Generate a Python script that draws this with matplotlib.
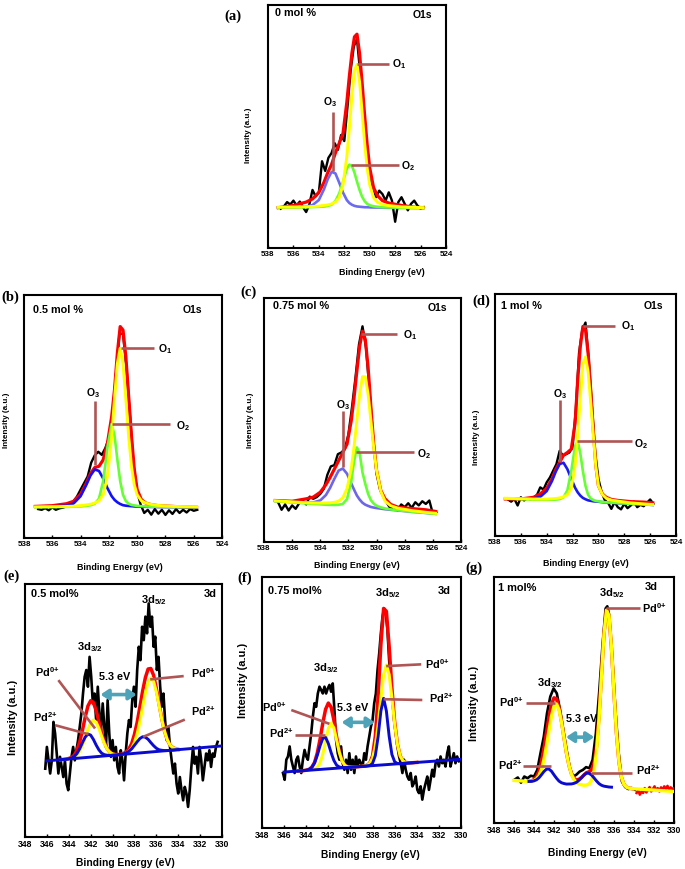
import numpy as np
import matplotlib
matplotlib.use('Agg')
import matplotlib.pyplot as plt
from matplotlib import font_manager

# ---------------------------------------------------------------
# values; intensity in % of each panel height
# ---------------------------------------------------------------
ticks_o = [538, 536, 534, 532, 530, 528, 526, 524]
ticks_pd = [348, 346, 344, 342, 340, 338, 336, 334, 332, 330]

# O1s fitted curves, common energy grid
e_fit_o = [537.2, 536.0, 535.0, 534.5, 534.0, 533.6, 533.3, 533.0, 532.7, 532.4,
           532.1, 531.8, 531.6, 531.4, 531.2, 531.0, 530.8, 530.6, 530.4, 530.2,
           530.0, 529.7, 529.4, 529.0, 528.5, 527.5, 526.5, 525.8]
# O1s raw spectra grid
e_raw_o = [537.0, 536.75, 536.5, 536.25, 536.0, 535.75, 535.5, 535.25, 535.0, 534.75,
           534.5, 534.25, 534.0, 533.75, 533.5, 533.25, 533.0, 532.75, 532.5, 532.25,
           532.0, 531.75, 531.5, 531.25, 531.0, 530.75, 530.5, 530.25, 530.0, 529.75,
           529.5, 529.25, 529.0, 528.75, 528.5, 528.25, 528.0, 527.75, 527.5, 527.25,
           527.0, 526.75, 526.5, 526.25, 526.0, 525.75]

# (a) 0 mol %
a_raw = [16.2, 17.1, 18.9, 17.9, 19.5, 17.5, 19.1, 16.8, 14.8, 17.9,
         23.9, 21.2, 22.9, 35.7, 31.7, 37.1, 39.1, 43.1, 40.4, 46.5,
         44.0, 58.0, 73.0, 83.0, 86.0, 72.0, 57.0, 40.0, 30.0, 24.9,
         20.9, 23.6, 22.2, 19.5, 22.9, 19.5, 10.8, 18.9, 20.9, 18.2,
         15.5, 18.2, 19.5, 17.5, 16.2, 16.8]
a_env = [16.6, 17.5, 18.9, 20.2, 22.9, 27.0, 31.0, 34.4, 39.1, 43.1,
         47.2, 60.0, 70.8, 80.2, 86.9, 88.0, 80.2, 68.1, 54.6, 42.5,
         33.0, 24.9, 21.6, 19.5, 18.5, 17.5, 16.8, 16.6]
a_o1 = [0.2, 0.3, 0.4, 0.5, 0.7, 1.0, 1.2, 1.6, 2.4, 4.3, 9.5, 21.1, 33.0, 46.2, 56.6,
        59.1, 52.1, 39.6, 26.7, 16.4, 9.5, 4.3, 2.4, 1.4, 1.0, 0.5, 0.3, 0.2]
a_o2 = [0.1, 0.1, 0.2, 0.3, 0.4, 0.5, 0.8, 1.3, 2.8, 5.9, 10.8, 16.1, 17.8, 17.3, 14.5,
        10.8, 7.4, 4.6, 2.8, 1.7, 1.1, 0.7, 0.5, 0.3, 0.25, 0.15, 0.1, 0.1]
a_o3 = [0.1, 0.2, 0.5, 1.1, 3.2, 7.6, 11.8, 14.8, 14.2, 10.4, 6.3, 3.2, 2.0, 1.3, 0.85,
        0.6, 0.5, 0.4, 0.3, 0.3, 0.25, 0.2, 0.2, 0.15, 0.1, 0.1, 0.05, 0.05]
a_bg = [16.6, 16.4]

# (b) 0.5 mol %
b_raw = [11.9, 11.6, 12.3, 11.4, 12.6, 11.6, 12.2, 12.5, 13.0, 13.7,
         15.1, 17.1, 19.9, 22.6, 25.3, 31.0, 34.0, 35.5, 34.2, 37.0,
         41.0, 50.0, 67.0, 84.0, 84.0, 70.0, 50.0, 30.0, 19.0, 13.7,
         10.3, 11.6, 9.6, 11.9, 10.0, 11.6, 9.5, 11.4, 9.9, 11.9,
         10.3, 11.6, 10.5, 11.9, 11.2, 11.6]
b_env = [13.0, 13.3, 14.1, 15.1, 18.0, 22.5, 26.5, 29.0, 29.5, 32.2,
         39.0, 50.0, 61.0, 76.0, 87.0, 85.6, 74.7, 58.2, 41.8, 28.1,
         19.9, 15.8, 14.4, 13.7, 13.3, 13.0, 12.7, 12.6]
b_o1 = [0.2, 0.3, 0.4, 0.5, 0.75, 1.0, 1.3, 1.8, 2.7, 5.2, 12.8, 29.1, 44.7, 59.1, 65.5,
        59.1, 44.7, 29.1, 16.9, 9.2, 5.2, 2.7, 1.8, 1.2, 0.8, 0.4, 0.3, 0.2]
b_o2 = [0.1, 0.1, 0.2, 0.3, 0.4, 0.6, 0.9, 1.5, 3.6, 10.8, 24.8, 34.4, 29.6, 19.7, 10.8,
        5.2, 2.6, 1.5, 1.0, 0.8, 0.6, 0.5, 0.4, 0.3, 0.25, 0.15, 0.1, 0.1]
b_o3 = [0.2, 0.3, 0.7, 1.6, 4.6, 9.2, 13.1, 15.6, 15.0, 11.9, 7.9, 4.6, 3.1, 2.1, 1.4,
        0.9, 0.7, 0.6, 0.5, 0.4, 0.35, 0.3, 0.25, 0.2, 0.15, 0.1, 0.1, 0.05]
b_bg = [12.6, 12.6]

# (c) 0.75 mol %
c_raw = [16.3, 13.2, 15.4, 12.9, 15.0, 13.6, 15.9, 17.0, 15.4, 18.6,
         17.7, 18.4, 19.7, 21.8, 27.5, 31.0, 31.5, 36.0, 36.7, 38.1,
         44.2, 55.1, 67.3, 81.0, 88.4, 79.6, 61.9, 42.9, 27.9, 21.4,
         18.4, 15.9, 13.6, 14.6, 12.9, 15.4, 14.3, 15.9, 14.0, 16.3,
         15.0, 16.7, 15.6, 17.0, 11.6, 12.2]
c_env = [17.0, 16.7, 17.7, 18.4, 20.4, 23.5, 26.5, 29.9, 33.3, 36.7,
         40.1, 49.7, 59.2, 70.1, 80.3, 86.4, 83.0, 71.4, 55.1, 40.1,
         29.3, 21.1, 17.7, 15.4, 14.3, 13.7, 13.2, 12.5]
c_o1 = [0.2, 0.3, 0.4, 0.55, 0.75, 0.95, 1.15, 1.5, 2.1, 3.6, 7.5, 15.8, 24.9, 35.9, 46.8,
        53.9, 53.9, 46.8, 35.9, 24.9, 15.8, 7.5, 3.6, 1.9, 1.15, 0.6, 0.35, 0.3]
c_o2 = [0.05, 0.1, 0.1, 0.1, 0.2, 0.2, 0.3, 0.4, 0.6, 1.1, 3.2, 10.6, 18.8, 24.7, 22.4,
        14.6, 10.0, 6.0, 3.5, 2.2, 1.4, 0.9, 0.6, 0.4, 0.3, 0.15, 0.1, 0.05]
c_o3 = [0.1, 0.25, 0.45, 0.75, 1.8, 4.2, 7.3, 11.1, 14.6, 15.6, 13.6, 9.8, 7.3, 5.0, 3.4,
        2.2, 1.5, 1.1, 0.75, 0.6, 0.5, 0.4, 0.3, 0.25, 0.2, 0.1, 0.1, 0.05]
c_bg = [16.7, 11.5]

# (d) 1 mol %
d_raw = [15.1, 14.2, 15.3, 12.6, 16.0, 14.7, 15.6, 15.1, 16.0, 17.0,
         20.1, 19.2, 22.2, 24.2, 27.0, 29.7, 35.2, 33.2, 33.8, 34.5,
         36.6, 52.3, 75.6, 85.2, 88.2, 72.9, 53.7, 34.5, 23.6, 18.1,
         14.7, 13.7, 11.2, 14.0, 11.9, 11.0, 13.3, 11.5, 12.6, 14.2,
         11.9, 12.9, 12.3, 13.7, 15.1, 13.3]
d_env = [15.3, 15.3, 16.0, 17.4, 19.7, 23.5, 27.5, 30.4, 33.4, 34.5,
         35.9, 46.8, 64.7, 78.4, 86.6, 85.2, 75.6, 60.5, 44.1, 29.0,
         20.8, 17.4, 16.0, 15.1, 14.7, 14.2, 14.0, 13.7]
d_o1 = [0.2, 0.3, 0.4, 0.5, 0.6, 0.8, 1.0, 1.3, 1.8, 2.8, 5.5, 15.0, 28.0, 43.0, 57.0,
        60.0, 54.0, 41.5, 28.0, 15.0, 7.0, 3.5, 2.0, 1.3, 1.0, 0.5, 0.3, 0.2]
d_o2 = [0.05, 0.1, 0.1, 0.2, 0.3, 0.4, 0.55, 0.8, 1.6, 4.6, 12.7, 23.2, 25.0, 20.1, 12.7,
        6.7, 3.1, 1.6, 1.0, 0.7, 0.55, 0.4, 0.3, 0.25, 0.2, 0.1, 0.1, 0.05]
d_o3 = [0.15, 0.3, 0.65, 1.4, 3.9, 8.05, 12.1, 15.3, 15.9, 13.3, 9.4, 5.7, 3.9, 2.6, 1.7,
        1.2, 0.8, 0.65, 0.5, 0.45, 0.4, 0.3, 0.25, 0.2, 0.15, 0.1, 0.1, 0.05]
d_bg = [15.4, 12.8]
bg_e_o = [537.2, 525.8]

# Pd 3d fitted components, grid for (e) and (f)
e_fit_pd = [344.75, 344.5, 344.25, 344.0, 343.75, 343.5, 343.25, 343.0, 342.75, 342.5,
            342.25, 342.0, 341.75, 341.5, 341.25, 341.0, 340.75, 340.5, 340.25, 340.0,
            339.75, 339.5, 339.25, 339.0, 338.75, 338.5, 338.25, 338.0, 337.75, 337.5,
            337.25, 337.0, 336.75, 336.5, 336.25, 336.0, 335.75, 335.5, 335.25, 335.0,
            334.75, 334.5, 334.25, 334.0]
bg_e_pd = [346.0, 330.0]

# (e) 0.5 mol%
e_pd0 = [0.0, 0.0, 0.0, 0.1, 0.2, 0.5, 1.3, 2.7, 4.9, 7.9, 11.1, 13.6, 14.6, 13.6, 11.1,
         7.9, 4.9, 2.7, 1.3, 0.5, 0.2, 0.1, 0.0, 0.1, 0.4, 1.0, 2.1, 4.3, 7.7, 12.5,
         18.1, 23.6, 27.8, 29.3, 27.8, 23.6, 18.1, 12.5, 7.7, 4.3, 2.1, 1.0, 0.4, 0.1]
e_pd2 = [0.0, 0.0, 0.0, 0.1, 0.3, 0.8, 1.9, 3.7, 6.0, 8.1, 9.2, 8.7, 6.9, 4.6, 2.6,
         1.2, 0.5, 0.2, 0.0, 0.0, 0.0, 0.0, 0.1, 0.2, 0.5, 1.0, 1.9, 3.2, 4.5, 5.7,
         6.3, 6.0, 5.1, 3.7, 2.4, 1.3, 0.6, 0.3, 0.1, 0.0, 0.0, 0.0, 0.0, 0.0]
e_bg = [30.1, 36.0]
e_raw_e = [346.15, 346.0, 345.85, 345.7, 345.55, 345.4, 345.25, 345.1, 344.95, 344.8,
           344.65, 344.5, 344.35, 344.2, 344.05, 343.9, 343.75, 343.6, 343.45, 343.3,
           343.15, 343.0, 342.85, 342.7, 342.55, 342.4, 342.25, 342.1, 341.95, 341.8,
           341.65, 341.5, 341.35, 341.2, 341.05, 340.9, 340.75, 340.6, 340.45, 340.3,
           340.15, 340.0, 339.85, 339.7, 339.55, 339.4, 339.25, 339.1, 338.95, 338.8,
           338.65, 338.5, 338.35, 338.2, 338.05, 337.9, 337.75, 337.6, 337.45, 337.3,
           337.15, 337.0, 336.85, 336.7, 336.55, 336.4, 336.25, 336.1, 335.95, 335.8,
           335.65, 335.5, 335.35, 335.2, 335.05, 334.9, 334.75, 334.6, 334.45, 334.3,
           334.15, 334.0, 333.85, 333.7, 333.55, 333.4, 333.25, 333.1, 332.95, 332.8,
           332.65, 332.5, 332.35, 332.2, 332.05, 331.9, 331.75, 331.6, 331.45, 331.3,
           331.15, 331.0, 330.85, 330.7, 330.55, 330.4]
e_raw = [27.0, 35.6, 30.3, 25.1, 30.3, 45.5, 40.9, 33.0, 25.1, 31.7,
         27.7, 23.7, 30.3, 21.1, 18.5, 25.1, 31.7, 35.6, 30.3, 34.3,
         38.3, 43.5, 48.8, 56.7, 63.3, 66.0, 59.4, 71.2, 63.3, 52.8,
         56.7, 46.2, 59.4, 48.8, 42.2, 52.8, 43.5, 35.6, 54.1, 40.9,
         31.7, 38.3, 30.3, 35.6, 27.7, 25.1, 34.3, 30.3, 22.4, 33.0,
         40.9, 46.2, 43.5, 54.1, 59.4, 51.5, 66.0, 75.2, 69.9, 83.1,
         77.8, 87.1, 80.5, 92.3, 83.1, 87.1, 75.2, 79.2, 66.0, 71.2,
         59.4, 51.5, 56.7, 46.2, 38.3, 43.5, 35.6, 30.3, 25.1, 29.0,
         21.1, 17.2, 23.7, 18.5, 14.5, 19.8, 17.2, 11.9, 18.5, 27.7,
         35.6, 29.0, 31.7, 25.1, 35.6, 30.3, 22.4, 27.7, 33.0, 30.3,
         34.3, 27.7, 33.0, 31.7, 35.6, 37.6]

# (f) 0.75 mol%
f_pd0 = [0.0, 0.0, 0.0, 0.0, 0.0, 0.1, 0.2, 0.9, 2.6, 6.1, 11.2, 16.1, 18.1, 16.1, 11.2,
         6.1, 2.6, 0.9, 0.2, 0.1, 0.0, 0.0, 0.0, 0.0, 0.1, 0.3, 1.0, 3.0, 7.7, 15.8,
         26.4, 35.8, 39.7, 35.8, 26.4, 15.8, 7.7, 3.0, 1.0, 0.3, 0.1, 0.0, 0.0, 0.0]
f_pd2 = [0.0, 0.0, 0.0, 0.1, 0.3, 1.0, 2.7, 5.7, 9.4, 12.3, 12.6, 10.1, 6.4, 3.2, 1.2,
         0.4, 0.1, 0.0, 0.0, 0.0, 0.0, 0.0, 0.0, 0.0, 0.0, 0.0, 0.1, 0.9, 3.9, 11.3,
         21.4, 26.5, 21.4, 11.3, 3.9, 0.9, 0.1, 0.0, 0.0, 0.0, 0.0, 0.0, 0.0, 0.0]
f_bg = [22.3, 27.4]
f_raw_e = [346.1, 345.95, 345.8, 345.65, 345.5, 345.35, 345.2, 345.05, 344.9, 344.75,
           344.6, 344.45, 344.3, 344.15, 344.0, 343.85, 343.7, 343.55, 343.4, 343.25,
           343.1, 342.95, 342.8, 342.65, 342.5, 342.35, 342.2, 342.05, 341.9, 341.75,
           341.6, 341.45, 341.3, 341.15, 341.0, 340.85, 340.7, 340.55, 340.4, 340.25,
           340.1, 339.95, 339.8, 339.65, 339.5, 339.35, 339.2, 339.05, 338.9, 338.75,
           338.6, 338.45, 338.3, 338.15, 338.0, 337.85, 337.7, 337.55, 337.4, 337.25,
           337.1, 336.95, 336.8, 336.65, 336.5, 336.35, 336.2, 336.05, 335.9, 335.75,
           335.6, 335.45, 335.3, 335.15, 335.0, 334.85, 334.7, 334.55, 334.4, 334.25,
           334.1, 333.95, 333.8, 333.65, 333.5, 333.35, 333.2, 333.05, 332.9, 332.75,
           332.6, 332.45, 332.3, 332.15, 332.0, 331.85, 331.7, 331.55, 331.4, 331.25,
           331.1, 330.95, 330.8, 330.65, 330.5, 330.35, 330.2, 330.05]
f_raw = [21.9, 19.2, 27.2, 28.5, 32.5, 27.2, 24.5, 21.9, 27.2, 28.5,
         24.5, 21.9, 27.2, 31.1, 28.5, 27.2, 32.5, 37.7, 44.4, 49.7,
         48.3, 53.6, 56.3, 55.0, 53.6, 56.3, 53.6, 55.6, 57.0, 54.3,
         57.6, 47.0, 35.1, 29.8, 27.2, 32.5, 25.8, 23.2, 27.2, 21.9,
         29.8, 23.2, 27.2, 21.9, 28.5, 24.5, 27.2, 25.8, 24.5, 29.8,
         27.2, 32.5, 36.4, 40.4, 43.0, 49.7, 53.6, 62.9, 69.5, 77.5,
         84.1, 87.4, 85.4, 78.8, 66.9, 58.9, 51.0, 43.0, 37.7, 32.5,
         28.5, 25.8, 21.9, 27.2, 23.2, 20.5, 19.2, 21.9, 16.6, 17.9,
         20.5, 15.2, 13.9, 16.6, 11.3, 15.2, 17.9, 20.5, 15.2, 19.2,
         23.2, 20.5, 25.8, 27.2, 24.5, 28.5, 25.8, 27.2, 24.5, 29.8,
         32.5, 24.5, 27.2, 29.8, 25.8, 28.5, 26.5, 27.2]

# (g) 1 mol%
e_fit_g = [346.0, 345.75, 345.5, 345.25, 345.0, 344.75, 344.5, 344.25, 344.0, 343.75,
           343.5, 343.25, 343.0, 342.75, 342.5, 342.25, 342.0, 341.75, 341.5, 341.25,
           341.0, 340.75, 340.5, 340.25, 340.0, 339.75, 339.5, 339.25, 339.0, 338.75,
           338.5, 338.25, 338.0, 337.75, 337.5, 337.25, 337.0, 336.75, 336.5, 336.25,
           336.0, 335.75, 335.5, 335.25, 335.0, 334.75, 334.5, 334.25, 334.0, 333.75,
           333.5, 333.25, 333.0, 332.75, 332.5, 332.25, 332.0, 331.75, 331.5, 331.25,
           331.0, 330.75, 330.5, 330.25, 330.0]
g_pd0 = [0.0] * 6 + [0.1, 0.2, 0.5, 1.3, 2.7, 5.3, 9.4, 15.0, 21.3, 27.2,
                     31.3, 32.3, 30.0, 25.0, 18.7, 12.6, 7.6, 4.1, 2.0, 0.9,
                     0.4, 0.1, 0.0, 0.2, 0.6, 2.1, 5.9, 13.9, 27.3, 45.1,
                     62.1, 71.8, 69.6, 56.5, 38.4, 21.9, 10.4, 4.2, 1.4, 0.4,
                     0.1] + [0.0] * 18
g_pd2 = [0.0] * 7 + [0.1, 0.4, 0.9, 1.8, 3.1, 4.5, 5.5, 5.6, 4.8, 3.4,
                     2.1, 1.0, 0.4, 0.15, 0.0, 0.1, 0.2, 0.5, 1.0, 1.9,
                     3.0, 4.2, 5.0, 5.0, 4.4, 3.3, 2.1, 1.1, 0.5, 0.2,
                     0.1] + [0.0] * 27
g_bg = [17.3, 12.8]
g_raw_e = [345.95, 345.62, 345.3, 344.97, 344.65, 344.32, 344.0, 343.67, 343.35, 343.02,
           342.7, 342.37, 342.04, 341.72, 341.39, 341.07, 340.74, 340.42, 340.09, 339.77,
           339.44, 339.11, 338.79, 338.46, 338.14, 337.81, 337.49, 337.16, 336.84, 336.67,
           336.51, 336.18, 335.86, 335.53, 335.21, 334.88, 334.56, 334.23, 333.9]
g_raw = [17.6, 18.5, 16.4, 18.9, 18.2, 19.2, 18.9, 21.6, 28.4, 35.1,
         44.6, 51.4, 54.7, 52.7, 45.9, 37.8, 29.7, 22.3, 18.9, 19.6,
         20.9, 21.6, 22.7, 22.3, 25.7, 36.5, 52.7, 71.6, 87.2, 88.1,
         85.1, 67.6, 45.9, 28.4, 16.9, 14.6, 13.8, 14.2, 13.5]
g_tail_e = [333.74, 333.58, 333.42, 333.25, 333.09, 332.93, 332.77, 332.6, 332.44, 332.28,
            332.11, 331.95, 331.79, 331.63, 331.46, 331.3, 331.14, 330.98, 330.81, 330.65,
            330.49, 330.33, 330.16, 330.0]
g_tail = [12.2, 13.5, 11.5, 12.8, 12.2, 14.2, 12.4, 13.5, 14.6, 12.8,
          13.8, 14.9, 13.2, 14.2, 12.8, 14.5, 13.5, 14.9, 13.8, 15.1,
          13.5, 14.5, 13.8, 14.2]

# ---------------------------------------------------------------
W, H = 685, 869


def have(name):
    try:
        font_manager.findfont(font_manager.FontProperties(family=name),
                              fallback_to_default=False)
        return True
    except Exception:
        return False


SANS = 'Liberation Sans'
SERIF = 'Liberation Serif'
NARROW = 'Liberation Sans Narrow' if have('Liberation Sans Narrow') else SANS
K = 1.0 if NARROW != SANS else 0.92    # short texts, no narrow face
KL = 1.0 if NARROW != SANS else 0.84   # long titles, no narrow face

plt.rcParams['font.family'] = [SANS, 'DejaVu Sans']
plt.rcParams['mathtext.fontset'] = 'custom'
plt.rcParams['mathtext.rm'] = SANS
plt.rcParams['mathtext.bf'] = SANS + ':bold'

RED, YEL, GRN = '#ff0000', '#ffff00', '#66ff33'
LEAD = '#b05555'
ARROW = '#4fa3b8'
BLUE_PD = '#0a0ad0'

fig = plt.figure(figsize=(W / 100, H / 100), dpi=100)

boxes = {
    'a': (268, 446, 5, 248),
    'b': (24, 222, 295, 538),
    'c': (264, 461, 298, 542),
    'd': (495, 676, 294, 536),
    'e': (25, 222, 584, 837),
    'f': (262, 461, 577, 828),
    'g': (494, 674, 577, 823),
}


def add_box(key):
    L, R, T, B = boxes[key]
    return fig.add_axes([L / W, 1 - B / H, (R - L) / W, (B - T) / H])


def frame(ax, ticks, fam, size):
    ax.set_xlim(ticks[0], ticks[-1])
    ax.set_ylim(0, 100)
    ax.set_xticks(ticks)
    ax.set_xticklabels([str(t) for t in ticks], fontsize=size,
                       fontweight='bold', family=fam)
    ax.set_yticks([])
    ax.tick_params(axis='x', direction='in', length=2.5, width=1.0, pad=2.5)
    for s in ax.spines.values():
        s.set_linewidth(1.5)


def ftext(x, y, s, **kw):
    fig.text(x / W, 1 - y / H, s, ha='center', va='center', **kw)


def line_at(e, e_pts, y_pts):
    # straight background line through its two read end points
    e = np.asarray(e, dtype=float)
    return y_pts[0] + (e - e_pts[0]) * (y_pts[1] - y_pts[0]) / (e_pts[1] - e_pts[0])


def o1s_panel(key, raw, env, o1, o2, o3, bg, blue, conc, cpos, spos, labels):
    ax = add_box(key)
    frame(ax, ticks_o, SANS, 5.8)
    base = line_at(e_fit_o, bg_e_o, bg)
    ax.plot(e_raw_o, raw, color='black', lw=1.7, zorder=2)
    ax.plot(e_fit_o, env, color=RED, lw=2.3, zorder=3)
    ax.plot(e_fit_o, base + np.array(o3), color=blue, lw=1.9, zorder=4)
    ax.plot(e_fit_o, base + np.array(o2), color=GRN, lw=1.9, zorder=5)
    ax.plot(e_fit_o, base + np.array(o1), color=YEL, lw=2.1, zorder=6)
    ax.text(cpos[0], cpos[1], conc, transform=ax.transAxes, ha='left', va='center',
            fontsize=7.8, fontweight='bold')
    ax.text(spos[0], spos[1], 'O1s', transform=ax.transAxes, ha='right', va='center',
            fontsize=7.5, fontweight='bold')
    for (x1, y1, x2, y2, tx, ty, s) in labels:
        ax.plot([x1, x2], [y1, y2], color=LEAD, lw=1.9, zorder=7,
                solid_capstyle='butt')
        ax.text(tx, ty, s, ha='center', va='center', fontsize=7.5, zorder=8)
    return ax


O1, O2, O3 = r'$\mathbf{O_1}$', r'$\mathbf{O_2}$', r'$\mathbf{O_3}$'

o1s_panel('a', a_raw, a_env, a_o1, a_o2, a_o3, a_bg, '#6a6af2', '0 mol %',
          (0.04, 0.967), (0.92, 0.96),
          [(531.0, 75.7, 528.45, 75.7, 527.7, 75.7, O1),
           (531.5, 34.0, 527.7, 34.0, 527.0, 33.7, O2),
           (532.9, 55.9, 532.9, 31.7, 533.1, 60.2, O3)])
o1s_panel('b', b_raw, b_env, b_o1, b_o2, b_o3, b_bg, '#1010ff', '0.5 mol %',
          (0.045, 0.94), (0.9, 0.94),
          [(531.15, 78.1, 528.8, 78.1, 528.05, 77.7, O1),
           (531.8, 47.0, 527.66, 47.0, 526.75, 46.2, O2),
           (532.99, 56.2, 532.99, 30.1, 533.1, 59.6, O3)])
o1s_panel('c', c_raw, c_env, c_o1, c_o2, c_o3, c_bg, '#6d66e8', '0.75 mol %',
          (0.045, 0.967), (0.93, 0.96),
          [(531.12, 85.4, 528.56, 85.4, 527.6, 85.0, O1),
           (531.47, 36.7, 527.32, 36.7, 526.6, 36.1, O2),
           (532.42, 53.7, 532.42, 30.6, 532.4, 56.3, O3)])
o1s_panel('d', d_raw, d_env, d_o1, d_o2, d_o3, d_bg, '#1a1aee', '1 mol %',
          (0.033, 0.95), (0.93, 0.95),
          [(531.16, 86.6, 528.72, 86.6, 527.7, 86.6, O1),
           (531.66, 39.3, 527.43, 39.3, 526.7, 37.9, O2),
           (533.0, 56.2, 533.0, 30.7, 533.0, 58.5, O3)])

PD0, PD2 = r'$\mathbf{Pd^{0{+}}}$', r'$\mathbf{Pd^{2{+}}}$'
D32, D52 = r'$\mathbf{3d_{3/2}}$', r'$\mathbf{3d_{5/2}}$'


def pd_decor(ax, conc, cpos, dpos, d32, d52, labels, arrow, gap):
    ax.text(cpos[0], cpos[1], conc, transform=ax.transAxes, ha='left', va='center',
            fontsize=8.6 * K, fontweight='bold', family=NARROW)
    ax.text(dpos[0], dpos[1], '3d', transform=ax.transAxes, ha='right', va='center',
            fontsize=8.6 * K, fontweight='bold', family=NARROW)
    ax.text(d32[0], d32[1], D32, ha='center', va='center', fontsize=8.0, zorder=9)
    ax.text(d52[0], d52[1], D52, ha='center', va='center', fontsize=8.0, zorder=9)
    for (x1, y1, x2, y2, tx, ty, s) in labels:
        ax.plot([x1, x2], [y1, y2], color=LEAD, lw=1.9, zorder=8,
                solid_capstyle='butt')
        ax.text(tx, ty, s, ha='center', va='center', fontsize=7.8, zorder=9)
    x1, x2, y = arrow
    ax.annotate('', xy=(x2, y), xytext=(x1, y), zorder=9,
                arrowprops=dict(arrowstyle='<|-|>,head_length=0.45,head_width=0.3',
                                color=ARROW, lw=2.6, shrinkA=0, shrinkB=0))
    ax.text(gap[0], gap[1], '5.3 eV', ha='center', va='center', fontsize=7.8,
            fontweight='bold', zorder=9)


# (e)
ax = add_box('e')
frame(ax, ticks_pd, NARROW, 6.8 * K)
base = line_at(e_fit_pd, bg_e_pd, e_bg)
ax.plot(e_raw_e, e_raw, color='black', lw=1.9, zorder=2)
ax.plot(e_fit_pd, base + np.array(e_pd0) + np.array(e_pd2), color=RED, lw=2.5, zorder=3)
ax.plot(e_fit_pd, base + np.array(e_pd0), color=YEL, lw=2.2, zorder=4)
ax.plot(e_fit_pd, base + np.array(e_pd2), color=BLUE_PD, lw=2.1, zorder=5)
ax.plot(bg_e_pd, e_bg, color=BLUE_PD, lw=2.1, zorder=6)
pd_decor(ax, '0.5 mol%', (0.03, 0.96), (0.975, 0.96), (342.05, 74.9), (336.25, 93.7),
         [(344.95, 62.0, 341.6, 42.9, 346.0, 65.3, PD0),
          (345.25, 44.2, 342.2, 40.6, 346.2, 47.2, PD2),
          (336.56, 62.3, 333.5, 63.6, 331.7, 64.6, PD0),
          (337.2, 39.6, 333.4, 46.4, 331.7, 49.8, PD2)],
         (341.1, 337.8, 56.3), (339.8, 63.3))

# (f)
ax = add_box('f')
frame(ax, ticks_pd, NARROW, 6.8 * K)
base = line_at(e_fit_pd, bg_e_pd, f_bg)
ax.plot(f_raw_e, f_raw, color='black', lw=1.9, zorder=2)
ax.plot(e_fit_pd, base + np.array(f_pd0) + np.array(f_pd2), color=RED, lw=2.5, zorder=3)
ax.plot(e_fit_pd, base + np.array(f_pd0), color=YEL, lw=2.2, zorder=4)
ax.plot(e_fit_pd, base + np.array(f_pd2), color=BLUE_PD, lw=2.1, zorder=5)
ax.plot(bg_e_pd, f_bg, color=BLUE_PD, lw=2.1, zorder=6)
pd_decor(ax, '0.75 mol%', (0.03, 0.944), (0.95, 0.944), (342.19, 63.6), (336.6, 93.4),
         [(345.35, 47.0, 341.9, 41.5, 346.9, 48.2, PD0),
          (345.05, 37.1, 342.3, 37.1, 346.3, 38.0, PD2),
          (336.77, 64.5, 333.6, 65.2, 332.15, 65.4, PD0),
          (337.0, 51.3, 333.5, 51.0, 331.8, 51.8, PD2)],
         (340.8, 337.8, 42.1), (339.8, 47.8))

# (g)
ax = add_box('g')
frame(ax, ticks_pd, NARROW, 6.8 * K)
eg = np.array(e_fit_g)
base = line_at(eg, bg_e_pd, g_bg)
env = base + np.array(g_pd0) + np.array(g_pd2)
ax.plot(g_raw_e, g_raw, color='black', lw=1.9, zorder=2)
m = (eg <= 344.5) & (eg >= 334.25)
ax.plot(eg[m], env[m], color=RED, lw=2.5, zorder=3)
ax.plot(g_tail_e, g_tail, color=RED, lw=1.8, zorder=3)
ax.plot(eg, base + np.array(g_pd0), color=YEL, lw=2.4, zorder=4)
m = (eg <= 344.5) & (eg >= 336.25)
ax.plot(eg[m], (base + np.array(g_pd2))[m], color=BLUE_PD, lw=2.1, zorder=5)
pd_decor(ax, '1 mol%', (0.025, 0.955), (0.91, 0.96), (342.37, 57.0), (336.2, 93.5),
         [(336.83, 87.2, 333.42, 87.2, 332.0, 87.3, PD0),
          (344.8, 48.6, 341.9, 48.6, 346.3, 49.1, PD0),
          (345.14, 23.0, 342.3, 23.0, 346.4, 23.6, PD2),
          (338.3, 20.5, 334.17, 20.5, 332.6, 21.4, PD2)],
         (340.8, 337.97, 34.9), (339.28, 42.2))

# axis titles and panel letters (pixel positions of the reference)
xl = 'Binding Energy (eV)'
for (x, y) in [(382, 272), (120, 567), (357, 566), (586, 563)]:
    ftext(x, y, xl, fontsize=6.4, fontweight='bold')
for (x, y) in [(125, 863), (370, 855), (597, 853)]:
    ftext(x, y, xl, fontsize=8.8 * KL, fontweight='bold', family=NARROW)
yl = 'Intensity (a.u.)'
for (x, y) in [(249, 135), (6, 420), (251, 420), (476, 437)]:
    ftext(x, y, yl, fontsize=5.9, fontweight='bold', rotation=90)
for (x, y) in [(13, 717), (243, 680), (474, 703)]:
    ftext(x, y, yl, fontsize=9.4 * KL, fontweight='bold', family=NARROW, rotation=90)
for (s, x, y) in [('(a)', 233, 16), ('(b)', 10, 297), ('(c)', 248, 292),
                  ('(d)', 481, 301), ('(e)', 11, 576), ('(f)', 245, 578),
                  ('(g)', 474, 568)]:
    ftext(x, y, s, fontsize=10.5, fontweight='bold', family=SERIF)

fig.savefig('out.png', dpi=100)
